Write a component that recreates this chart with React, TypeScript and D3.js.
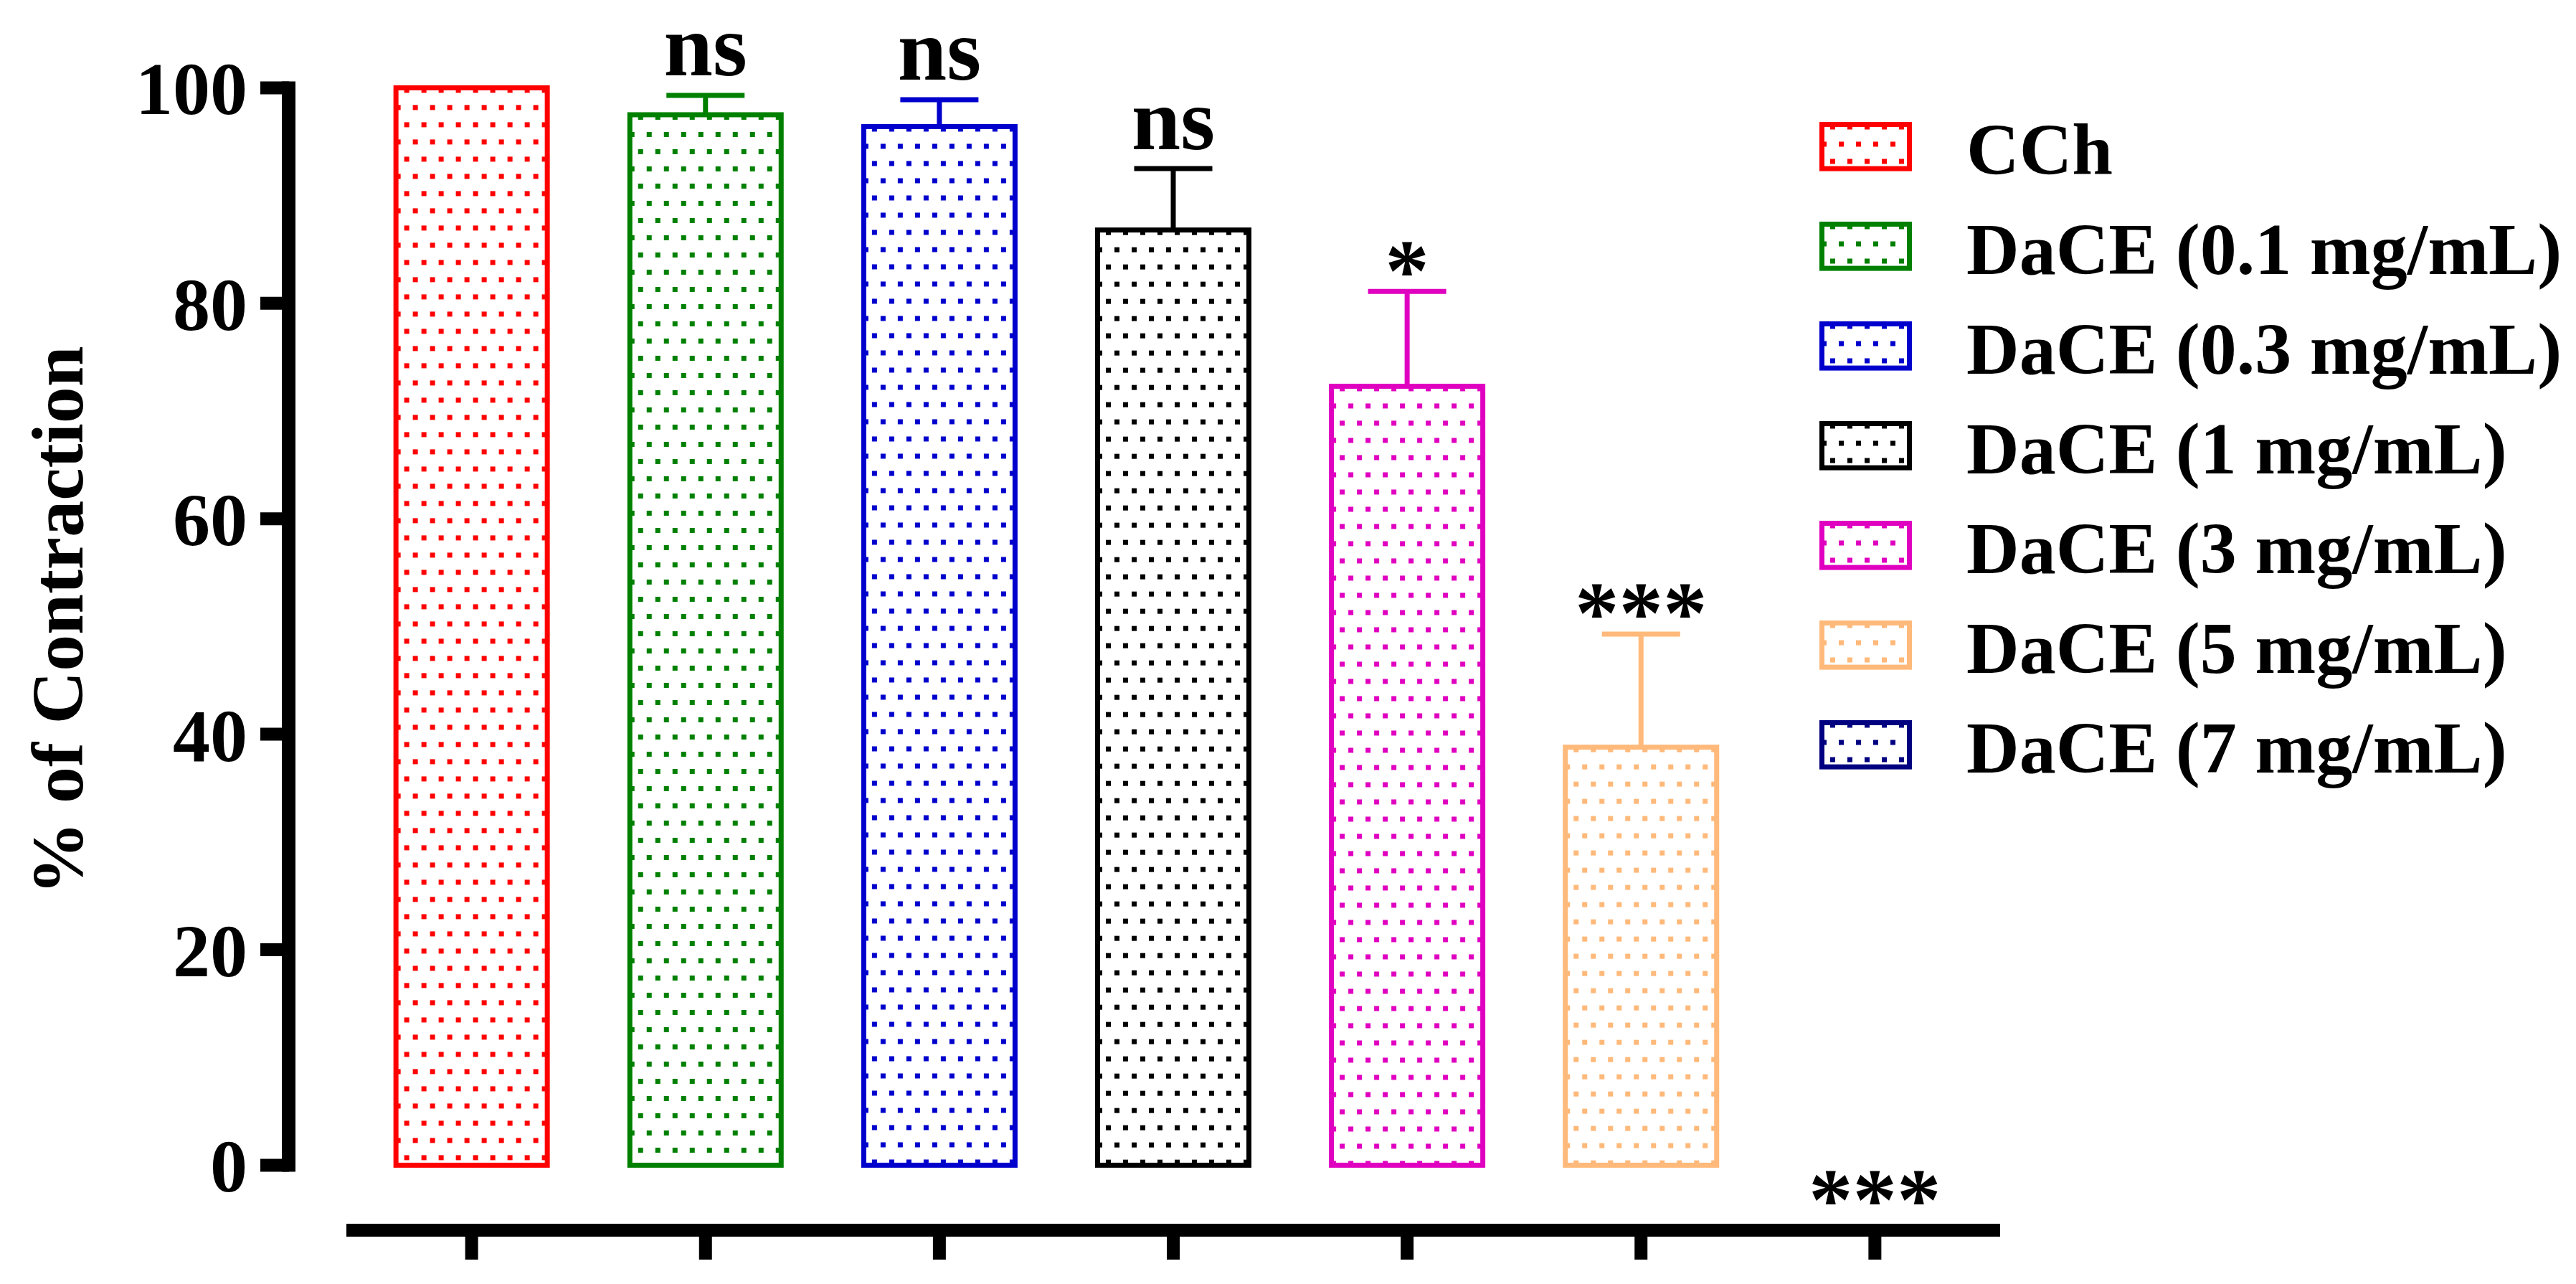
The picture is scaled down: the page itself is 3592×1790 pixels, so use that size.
import * as d3 from "d3";

// --- data ---
const groups = [
  "CCh",
  "DaCE (0.1 mg/mL)",
  "DaCE (0.3 mg/mL)",
  "DaCE (1 mg/mL)",
  "DaCE (3 mg/mL)",
  "DaCE (5 mg/mL)",
  "DaCE (7 mg/mL)",
];
const means = [100, 97.5, 96.4, 86.8, 72.3, 38.8, 0];
const sems = [0, 1.8, 2.5, 5.7, 8.8, 10.5, 0];
const marks = ["", "ns", "ns", "ns", "*", "***", "***"];
const colors = [
  "#FF0000",
  "#008000",
  "#0000CD",
  "#000000",
  "#E000C0",
  "#FFB97A",
  "#000080",
];
const yTicks = [0, 20, 40, 60, 80, 100];
const yLabel = "% of Contraction";

const W = 3592;
const H = 1790;
const FONT = "'Liberation Serif', 'Times New Roman', serif";
const BAR_STROKE = 7;
const AXIS_W = 18;

// dotted fill, anchored to the outer top-left corner of the box it fills
function DotPattern({ id, color, x0, y0 }: { id: string; color: string; x0: number; y0: number }) {
  return (
    <pattern
      id={id}
      patternUnits="userSpaceOnUse"
      width={24}
      height={48}
      x={x0 + 15}
      y={y0 + 3.5}
    >
      <rect x={0} y={0} width={7} height={7} fill={color} />
      <rect x={12} y={24} width={7} height={7} fill={color} />
    </pattern>
  );
}

export default function App() {
  const y = d3.scaleLinear().domain([0, 100]).range([1624.4, 122.4]);
  const x = d3
    .scaleBand<string>()
    .domain(groups)
    .range([483, 2789])
    .paddingInner(0.353)
    .paddingOuter(0.212);
  const bw = x.bandwidth();
  const [xa0, xa1] = x.range();

  const legend = { x: 2540.5, y: 173.5, step: 139, w: 122, h: 61.6, textX: 2742 };

  return (
    <svg
      width={W}
      height={H}
      style={{ position: "absolute", left: 0, top: 0, background: "#fff" }}
      fontFamily={FONT}
      fontWeight="bold"
    >
      <defs>
        {groups.map((g, i) => (
          <DotPattern
            key={"b" + i}
            id={`pat-bar-${i}`}
            color={colors[i]}
            x0={(x(g) ?? 0) - BAR_STROKE / 2}
            y0={y(means[i]) - BAR_STROKE / 2}
          />
        ))}
        {groups.map((g, i) => (
          <DotPattern
            key={"l" + i}
            id={`pat-leg-${i}`}
            color={colors[i]}
            x0={legend.x - BAR_STROKE / 2}
            y0={legend.y + i * legend.step - BAR_STROKE / 2}
          />
        ))}
      </defs>

      {/* y axis */}
      <line
        x1={402.5}
        x2={402.5}
        y1={y(100) - AXIS_W / 2}
        y2={y(0) + AXIS_W / 2}
        stroke="#000"
        strokeWidth={19}
      />
      {yTicks.map((t) => (
        <g key={t}>
          <line x1={363} x2={403} y1={y(t)} y2={y(t)} stroke="#000" strokeWidth={AXIS_W} />
          <text x={345} y={y(t) + 37} textAnchor="end" fontSize={104} fill="#000">
            {t}
          </text>
        </g>
      ))}
      <text
        transform={`translate(115, 865) rotate(-90)`}
        textAnchor="middle"
        fontSize={102}
        fill="#000"
      >
        {yLabel}
      </text>

      {/* x axis, offset below the plot */}
      <line x1={xa0} x2={xa1} y1={1715} y2={1715} stroke="#000" strokeWidth={AXIS_W} />
      {groups.map((g) => {
        const cx = (x(g) ?? 0) + bw / 2;
        return (
          <line key={g} x1={cx} x2={cx} y1={1715} y2={1756} stroke="#000" strokeWidth={AXIS_W} />
        );
      })}

      {/* bars + one-sided error bars */}
      {groups.map((g, i) => {
        const bx = x(g) ?? 0;
        const cx = bx + bw / 2;
        const top = y(means[i]);
        const errTop = y(means[i] + sems[i]);
        return (
          <g key={g}>
            {means[i] > 0 && (
              <rect
                x={bx}
                y={top}
                width={bw}
                height={y(0) - top}
                fill={`url(#pat-bar-${i})`}
                stroke={colors[i]}
                strokeWidth={BAR_STROKE}
              />
            )}
            {sems[i] > 0 && (
              <>
                <line x1={cx} x2={cx} y1={top} y2={errTop} stroke={colors[i]} strokeWidth={7} />
                <line
                  x1={cx - 54.5}
                  x2={cx + 54.5}
                  y1={errTop}
                  y2={errTop}
                  stroke={colors[i]}
                  strokeWidth={7}
                />
              </>
            )}
          </g>
        );
      })}

      {/* significance marks */}
      {groups.map((g, i) => {
        if (!marks[i]) return null;
        const cx = (x(g) ?? 0) + bw / 2;
        const capTop = y(means[i] + sems[i]) - 3.5;
        const isStar = marks[i].startsWith("*");
        // the zero-height bar carries its mark just under the baseline
        const base =
          means[i] === 0 ? y(0) + 90 : isStar ? capTop + 16 : capTop - 24;
        return (
          <text key={g} x={cx} y={base} textAnchor="middle" fontSize={123} fill="#000">
            {marks[i]}
          </text>
        );
      })}

      {/* legend */}
      {groups.map((g, i) => {
        const ty = legend.y + i * legend.step;
        return (
          <g key={g}>
            <rect
              x={legend.x}
              y={ty}
              width={legend.w}
              height={legend.h}
              fill={`url(#pat-leg-${i})`}
              stroke={colors[i]}
              strokeWidth={BAR_STROKE}
            />
            <text x={legend.textX} y={ty - BAR_STROKE / 2 + 73} fontSize={102} fill="#000">
              {g}
            </text>
          </g>
        );
      })}
    </svg>
  );
}
